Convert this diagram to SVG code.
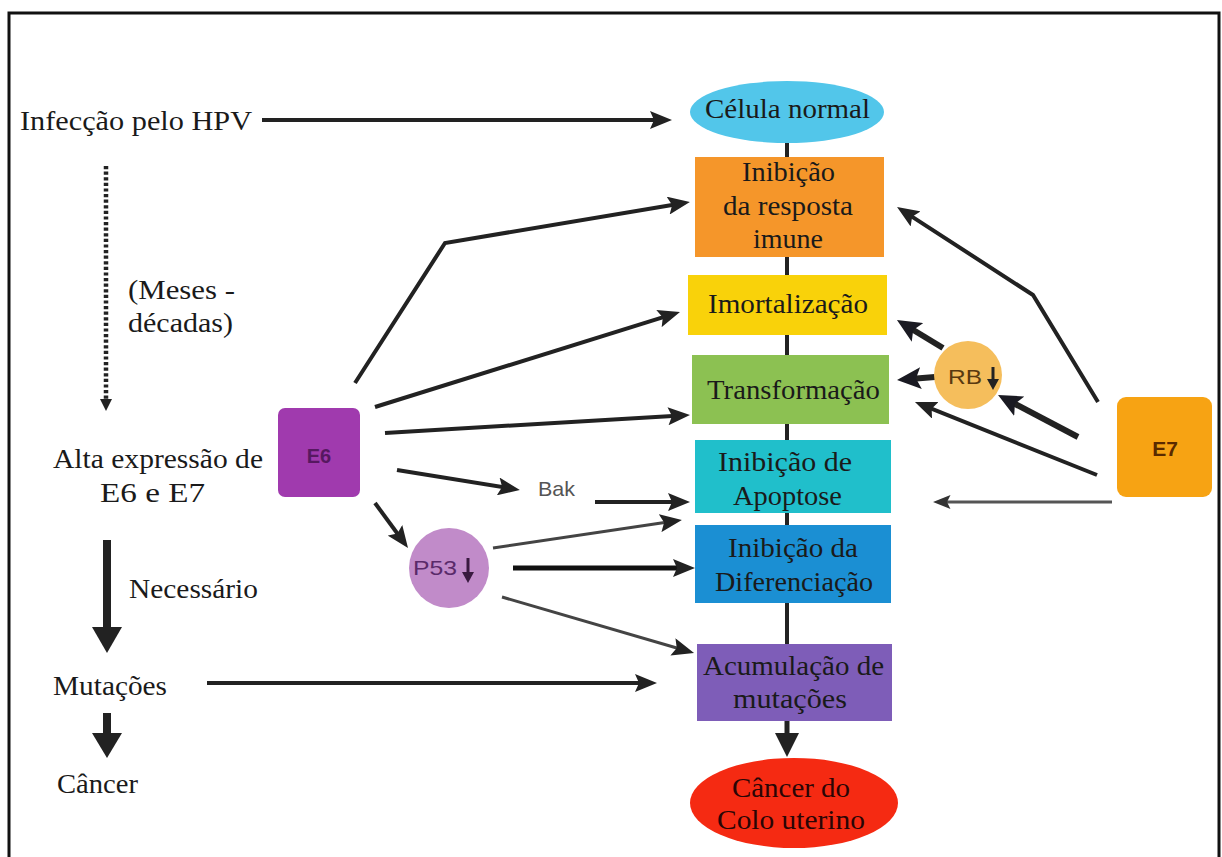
<svg xmlns="http://www.w3.org/2000/svg" width="1222" height="857" viewBox="0 0 1222 857">
<style>
.t{font-family:"Liberation Serif","Times New Roman",serif;font-size:27px;fill:#1a1a1a}
.s{font-family:"Liberation Sans",Arial,sans-serif}
.c{stroke:#222;stroke-width:4;fill:none}
.cb{stroke:#222;stroke-width:6;fill:none}
.cg{stroke:#444;stroke-width:3;fill:none}
.v{stroke:#222;stroke-width:4}
</style>
<defs>
<marker id="ah" viewBox="0 0 22 18" markerWidth="22" markerHeight="18" refX="13" refY="9" orient="auto" markerUnits="userSpaceOnUse">
<path d="M0,0 L22,9 L0,18 L4,9 z" fill="#222"/>
</marker>
<marker id="ahb" viewBox="0 0 24 22" markerWidth="24" markerHeight="22" refX="14" refY="11" orient="auto" markerUnits="userSpaceOnUse">
<path d="M0,0 L24,11 L0,22 L5,11 z" fill="#1a1a22"/>
</marker>
<marker id="ahg" viewBox="0 0 20 16" markerWidth="18" markerHeight="14" refX="12" refY="8" orient="auto" markerUnits="userSpaceOnUse">
<path d="M0,0 L20,8 L0,16 L4,8 z" fill="#333"/>
</marker>
</defs>
<rect x="0" y="0" width="1222" height="857" fill="#fff"/>
<rect x="9" y="13" width="1210" height="900" fill="none" stroke="#111" stroke-width="3"/>

<g id="connectors">
<line class="v" x1="787" y1="143" x2="787" y2="157"/>
<line class="v" x1="787" y1="257" x2="787" y2="275"/>
<line class="v" x1="787" y1="335" x2="787" y2="355"/>
<line class="v" x1="787" y1="424" x2="787" y2="440"/>
<line class="v" x1="787" y1="513" x2="787" y2="525"/>
<line class="v" x1="787" y1="603" x2="787" y2="644"/>
<rect x="784.5" y="721" width="5" height="14" fill="#222"/>
<polygon points="775,733 799,733 787,757" fill="#222"/>
<line x1="106" y1="166" x2="106" y2="400" stroke="#222" stroke-width="4.5" stroke-dasharray="3.2 2.4"/>
<polygon points="100,399 112,399 106,411" fill="#222"/>
<rect x="103" y="540" width="8" height="88" fill="#222"/>
<polygon points="92,627 122,627 107,653" fill="#222"/>
<rect x="103" y="713" width="8" height="21" fill="#222"/>
<polygon points="92,733 122,733 107,758" fill="#222"/>
<line class="c" x1="262" y1="120" x2="663" y2="120" marker-end="url(#ah)"/>
<line class="c" x1="207" y1="683" x2="648" y2="683" marker-end="url(#ah)"/>
<polyline class="c" points="355,383 445,243 681,203.5" marker-end="url(#ah)"/>
<line class="c" x1="375" y1="407" x2="671.4" y2="314.7" marker-end="url(#ah)"/>
<line class="c" x1="385" y1="433" x2="681" y2="415.5" marker-end="url(#ah)"/>
<line class="c" x1="397" y1="470" x2="511" y2="488.5" marker-end="url(#ah)"/>
<line class="c" x1="595" y1="502" x2="681" y2="502" marker-end="url(#ah)"/>
<line class="c" x1="375" y1="503" x2="402.7" y2="540.8" marker-end="url(#ah)"/>
<line class="cg" x1="493" y1="548" x2="673" y2="521.3" marker-end="url(#ah)"/>
<line x1="513" y1="568" x2="686" y2="568" stroke="#111" stroke-width="5" marker-end="url(#ah)"/>
<line class="cg" x1="502" y1="597" x2="685.4" y2="650.5" marker-end="url(#ah)"/>
<polyline class="c" points="1098,402 1033,295 904.6,211.9" marker-end="url(#ah)"/>
<line class="cb" x1="1078" y1="437" x2="1006.9" y2="399.7" marker-end="url(#ahb)"/>
<line class="cb" x1="943" y1="348" x2="905.5" y2="325.2" marker-end="url(#ahb)"/>
<line class="cb" x1="935" y1="377" x2="907" y2="379.2" marker-end="url(#ahb)"/>
<line class="c" x1="1097" y1="475" x2="923.3" y2="405.4" marker-end="url(#ah)"/>
<line stroke="#555" stroke-width="3" x1="1112" y1="502" x2="940" y2="502" marker-end="url(#ahg)"/>
</g>

<g id="celula-normal">
<ellipse cx="787" cy="112" rx="97" ry="31" fill="#52C6EA"/>
<text class="t" x="705" y="118" textLength="165" lengthAdjust="spacingAndGlyphs">Célula normal</text>
</g>
<g id="inibicao-resposta">
<rect x="695" y="157" width="189" height="100" fill="#F5962A"/>
<text class="t" x="742" y="181" textLength="93" lengthAdjust="spacingAndGlyphs">Inibição</text>
<text class="t" x="723" y="215" textLength="130" lengthAdjust="spacingAndGlyphs">da resposta</text>
<text class="t" x="753" y="248" textLength="70" lengthAdjust="spacingAndGlyphs">imune</text>
</g>
<g id="imortalizacao">
<rect x="688" y="275" width="199" height="60" fill="#F9D20A"/>
<text class="t" x="708" y="313" textLength="160" lengthAdjust="spacingAndGlyphs">Imortalização</text>
</g>
<g id="transformacao">
<rect x="692" y="355" width="197" height="69" fill="#8CC152"/>
<text class="t" x="707" y="399" textLength="173" lengthAdjust="spacingAndGlyphs">Transformação</text>
</g>
<g id="inibicao-apoptose">
<rect x="695" y="440" width="196" height="73" fill="#20BFCB"/>
<text class="t" x="718" y="471" textLength="134" lengthAdjust="spacingAndGlyphs">Inibição de</text>
<text class="t" x="733" y="505" textLength="109" lengthAdjust="spacingAndGlyphs">Apoptose</text>
</g>
<g id="inibicao-diferenciacao">
<rect x="695" y="525" width="196" height="78" fill="#1B8FD3"/>
<text class="t" x="728" y="557" textLength="130" lengthAdjust="spacingAndGlyphs">Inibição da</text>
<text class="t" x="715" y="591" textLength="158" lengthAdjust="spacingAndGlyphs">Diferenciação</text>
</g>
<g id="acumulacao">
<rect x="697" y="644" width="195" height="77" fill="#7E5DB8"/>
<text class="t" x="703" y="675" textLength="181" lengthAdjust="spacingAndGlyphs">Acumulação de</text>
<text class="t" x="733" y="708" textLength="114" lengthAdjust="spacingAndGlyphs">mutações</text>
</g>
<g id="cancer-colo">
<ellipse cx="794" cy="803" rx="104" ry="45" fill="#F52A12"/>
<text class="t" x="732" y="797" textLength="118" lengthAdjust="spacingAndGlyphs" style="fill:#2a0505">Câncer do</text>
<text class="t" x="717" y="829" textLength="148" lengthAdjust="spacingAndGlyphs" style="fill:#2a0505">Colo uterino</text>
</g>

<g id="infeccao">
<text class="t" x="20" y="130" textLength="232" lengthAdjust="spacingAndGlyphs">Infecção pelo HPV</text>
</g>
<g id="meses">
<text class="t" x="128" y="299" textLength="107" lengthAdjust="spacingAndGlyphs">(Meses -</text>
<text class="t" x="128" y="332" textLength="105" lengthAdjust="spacingAndGlyphs">décadas)</text>
</g>
<g id="alta-expressao">
<text class="t" x="53" y="468" textLength="210" lengthAdjust="spacingAndGlyphs">Alta expressão de</text>
<text class="t" x="100" y="502" textLength="105" lengthAdjust="spacingAndGlyphs">E6 e E7</text>
</g>
<g id="necessario">
<text class="t" x="129" y="598" textLength="129" lengthAdjust="spacingAndGlyphs">Necessário</text>
</g>
<g id="mutacoes">
<text class="t" x="53" y="695" textLength="114" lengthAdjust="spacingAndGlyphs">Mutações</text>
</g>
<g id="cancer">
<text class="t" x="57" y="793" textLength="81" lengthAdjust="spacingAndGlyphs">Câncer</text>
</g>

<g id="e6">
<rect x="278" y="408" width="82" height="89" rx="7" fill="#A03AAE"/>
<text class="s" x="319" y="463" text-anchor="middle" font-size="20" font-weight="bold" fill="#561860">E6</text>
</g>
<g id="bak">
<text class="s" x="538" y="496" font-size="21" fill="#555" textLength="37" lengthAdjust="spacingAndGlyphs">Bak</text>
</g>
<g id="p53">
<circle cx="449" cy="568" r="40" fill="#C18BC9"/>
<text class="s" x="413" y="575" font-size="21" fill="#5a2a6a" textLength="44" lengthAdjust="spacingAndGlyphs">P53</text>
<line x1="468" y1="558" x2="468" y2="574" stroke="#3a1a40" stroke-width="3"/>
<polygon points="462,572 474,572 468,583" fill="#3a1a40"/>
</g>
<g id="rb">
<circle cx="968" cy="375" r="34" fill="#F5BE5C"/>
<text class="s" x="948" y="384" font-size="20" fill="#5a3a10" textLength="34" lengthAdjust="spacingAndGlyphs">RB</text>
<line x1="993" y1="367" x2="993" y2="381" stroke="#222" stroke-width="3"/>
<polygon points="987,379 999,379 993,390" fill="#222"/>
</g>
<g id="e7">
<rect x="1117" y="397" width="95" height="100" rx="9" fill="#F7A313"/>
<text class="s" x="1165" y="456" text-anchor="middle" font-size="21" font-weight="bold" fill="#5a2a00">E7</text>
</g>
</svg>
